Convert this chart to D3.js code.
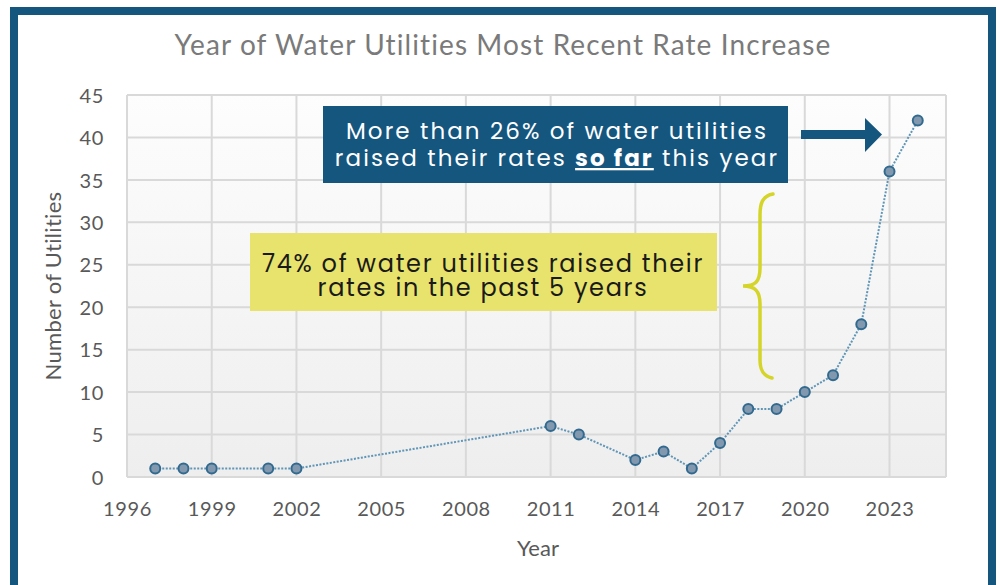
<!DOCTYPE html>
<html>
<head>
<meta charset="utf-8">
<script src="https://cdn.jsdelivr.net/npm/d3@7"></script>
<style>
  body { margin: 0; background: #fff; }
  svg { display: block; }
</style>
</head>
<body>
<svg id="chart" width="997" height="585"></svg>
<script>
// values
var years = [1997, 1998, 1999, 2001, 2002, 2011, 2012, 2014, 2015, 2016, 2017, 2018, 2019, 2020, 2021, 2022, 2023, 2024];
var counts = [1, 1, 1, 1, 1, 6, 5, 2, 3, 1, 4, 8, 8, 10, 12, 18, 36, 42];
var xTicks = [1996, 1999, 2002, 2005, 2008, 2011, 2014, 2017, 2020, 2023];
var yTicks = [0, 5, 10, 15, 20, 25, 30, 35, 40, 45];

var svg = d3.select('#chart');
var axisFont = 'Lato, "Liberation Sans", sans-serif';
var noteFont = 'Poppins, "Open Sans", sans-serif';

var x = d3.scaleLinear().domain([1996, 2025]).range([127, 946]);
var y = d3.scaleLinear().domain([0, 45]).range([477, 95]);

// frame
svg.append('rect').attr('x', 14).attr('y', 11).attr('width', 978).attr('height', 580)
    .attr('fill', 'none').attr('stroke', '#15567f').attr('stroke-width', 8);

// title
svg.append('text')
    .attr('x', 503).attr('y', 55)
    .attr('text-anchor', 'middle')
    .attr('font-family', axisFont).attr('font-size', 28)
    .attr('letter-spacing', 1.1)
    .attr('fill', '#7a7a7a')
    .text('Year of Water Utilities  Most Recent Rate Increase');

// plot background
var grad = svg.append('defs').append('linearGradient')
    .attr('id', 'bg').attr('x1', 0).attr('y1', 0).attr('x2', 0).attr('y2', 1);
grad.append('stop').attr('offset', '0%').attr('stop-color', '#fdfdfd');
grad.append('stop').attr('offset', '100%').attr('stop-color', '#eeeeee');

svg.append('rect')
    .attr('x', x(1996)).attr('y', y(45))
    .attr('width', x(2025) - x(1996)).attr('height', y(0) - y(45))
    .attr('fill', 'url(#bg)');

// grid
var grid = svg.append('g').attr('stroke', '#d9d9d9').attr('stroke-width', 2);
grid.selectAll('.v').data(xTicks.concat([2025])).enter().append('line')
    .attr('x1', d => x(d)).attr('x2', d => x(d))
    .attr('y1', y(45)).attr('y2', y(0));
grid.selectAll('.h').data(yTicks).enter().append('line')
    .attr('x1', x(1996)).attr('x2', x(2025))
    .attr('y1', d => y(d)).attr('y2', d => y(d));

// axes
var yAxis = svg.append('g')
    .attr('transform', 'translate(' + (x(1996) - 23) + ',0)')
    .call(d3.axisLeft(y).tickValues(yTicks).tickSize(0).tickPadding(0));
var xAxis = svg.append('g')
    .attr('transform', 'translate(0,' + (y(0) + 22) + ')')
    .call(d3.axisBottom(x).tickValues(xTicks).tickFormat(d3.format('d')).tickSize(0).tickPadding(0));
[xAxis, yAxis].forEach(function(a) {
    a.select('.domain').remove();
    a.selectAll('text')
        .attr('font-family', axisFont).attr('font-size', 20)
        .attr('letter-spacing', 0.6)
        .attr('fill', '#595959');
});
yAxis.selectAll('text').attr('dy', '0.36em');
xAxis.selectAll('text').attr('dy', '0.85em');

svg.append('text')
    .attr('transform', 'translate(61,286) rotate(-90)')
    .attr('text-anchor', 'middle')
    .attr('font-family', axisFont).attr('font-size', 22)
    .attr('letter-spacing', 0.3)
    .attr('fill', '#595959')
    .text('Number of Utilities');

svg.append('text')
    .attr('x', 538).attr('y', 556)
    .attr('text-anchor', 'middle')
    .attr('font-family', axisFont).attr('font-size', 22)
    .attr('fill', '#595959')
    .text('Year');

// series
var pts = years.map((d, i) => [d, counts[i]]);
svg.append('path')
    .attr('d', d3.line().x(d => x(d[0])).y(d => y(d[1]))(pts))
    .attr('fill', 'none')
    .attr('stroke', '#5f95b6')
    .attr('stroke-width', 2)
    .attr('stroke-dasharray', '2,1.5');

svg.selectAll('.pt').data(pts).enter().append('circle')
    .attr('cx', d => x(d[0])).attr('cy', d => y(d[1]))
    .attr('r', 5)
    .attr('fill', '#8198ae')
    .attr('stroke', '#326a8f')
    .attr('stroke-width', 2);

// blue note
svg.append('rect').attr('x', 323).attr('y', 106).attr('width', 465).attr('height', 77)
    .attr('fill', '#15567f');
svg.append('text')
    .attr('x', 557).attr('y', 139)
    .attr('text-anchor', 'middle')
    .attr('font-family', noteFont).attr('font-size', 23)
    .attr('letter-spacing', 2.1)
    .attr('fill', '#ffffff')
    .text('More than 26% of water utilities');
var l2 = svg.append('text')
    .attr('x', 557).attr('y', 166)
    .attr('text-anchor', 'middle')
    .attr('font-family', noteFont).attr('font-size', 23)
    .attr('letter-spacing', 2.1)
    .attr('fill', '#ffffff');
l2.append('tspan').text('raised their rates ');
l2.append('tspan').attr('font-weight', 'bold').attr('text-decoration', 'underline').text('so far');
l2.append('tspan').text(' this year');

// arrow
svg.append('path')
    .attr('d', 'M801,130 L865,130 L865,118 L882,134.5 L865,152 L865,139 L801,139 Z')
    .attr('fill', '#15567f');

// yellow note
svg.append('rect').attr('x', 250).attr('y', 233).attr('width', 467).attr('height', 78)
    .attr('fill', '#e8e36c');
svg.append('text')
    .attr('x', 483).attr('y', 272)
    .attr('text-anchor', 'middle')
    .attr('font-family', noteFont).attr('font-size', 24)
    .attr('letter-spacing', 1.7)
    .attr('fill', '#1a1a1a')
    .text('74% of water utilities raised their');
svg.append('text')
    .attr('x', 483).attr('y', 296)
    .attr('text-anchor', 'middle')
    .attr('font-family', noteFont).attr('font-size', 24)
    .attr('letter-spacing', 1.7)
    .attr('fill', '#1a1a1a')
    .text('rates in the past 5 years');

// brace
svg.append('path')
    .attr('d', 'M773,194 C762,196 760,204 760,215 L760,268 C760,282 755,286 743,286 C755,286 760,291 760,304 L760,360 C760,370 763,376 772,378')
    .attr('fill', 'none')
    .attr('stroke', '#d4d429')
    .attr('stroke-width', 3.5)
    .attr('stroke-linecap', 'round');
</script>
</body>
</html>
